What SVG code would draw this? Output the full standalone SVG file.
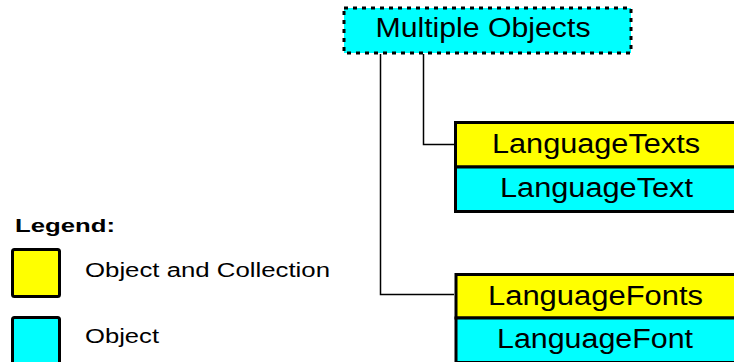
<svg xmlns="http://www.w3.org/2000/svg" width="734" height="362" viewBox="0 0 734 362">
<style>
.t{font-family:"Liberation Sans",Arial,sans-serif;fill:#000;}
.box{font-size:27px;text-anchor:middle;}
.yel{fill:#ffff00;stroke:#000;stroke-width:3;}
.cyn{fill:#00ffff;stroke:#000;stroke-width:3;}
.conn{fill:none;stroke:#000;stroke-width:1.5;}
.leg{font-size:20px;}
</style>
<rect width="734" height="362" fill="#fff"/>
<g id="connectors">
<polyline class="conn" points="380.5,54 380.5,294.5 454,294.5"/>
<polyline class="conn" points="423.5,54 423.5,144.5 454,144.5"/>
</g>
<g id="multiple-objects">
<rect x="344" y="8" width="287" height="45" fill="#00ffff" stroke="#000" stroke-width="3" stroke-dasharray="4 5"/>
<text class="t box" x="483" y="37" textLength="215" lengthAdjust="spacingAndGlyphs">Multiple Objects</text>
</g>
<g id="languagetexts">
<rect class="yel" x="455.5" y="122.5" width="285" height="44.5"/>
<rect class="cyn" x="455.5" y="167" width="285" height="44.5"/>
<text class="t box" x="596" y="153" textLength="208" lengthAdjust="spacingAndGlyphs">LanguageTexts</text>
<text class="t box" x="596.5" y="197" textLength="193" lengthAdjust="spacingAndGlyphs">LanguageText</text>
</g>
<g id="languagefonts">
<rect class="yel" x="456" y="274.5" width="285" height="43.5"/>
<rect class="cyn" x="456" y="318" width="285" height="44.5"/>
<text class="t box" x="595.5" y="305" textLength="215" lengthAdjust="spacingAndGlyphs">LanguageFonts</text>
<text class="t box" x="595" y="348" textLength="196" lengthAdjust="spacingAndGlyphs">LanguageFont</text>
</g>
<g id="legend">
<text class="t" x="15" y="232" font-size="19" font-weight="bold" textLength="100" lengthAdjust="spacingAndGlyphs">Legend:</text>
<rect class="yel" x="12.5" y="249.5" width="47" height="47" rx="2"/>
<text class="t leg" x="85" y="277" textLength="245" lengthAdjust="spacingAndGlyphs" fill="#222">Object and Collection</text>
<rect class="cyn" x="12.5" y="317.5" width="47" height="47" rx="2"/>
<text class="t leg" x="85" y="343" textLength="74" lengthAdjust="spacingAndGlyphs" fill="#222">Object</text>
</g>
</svg>
